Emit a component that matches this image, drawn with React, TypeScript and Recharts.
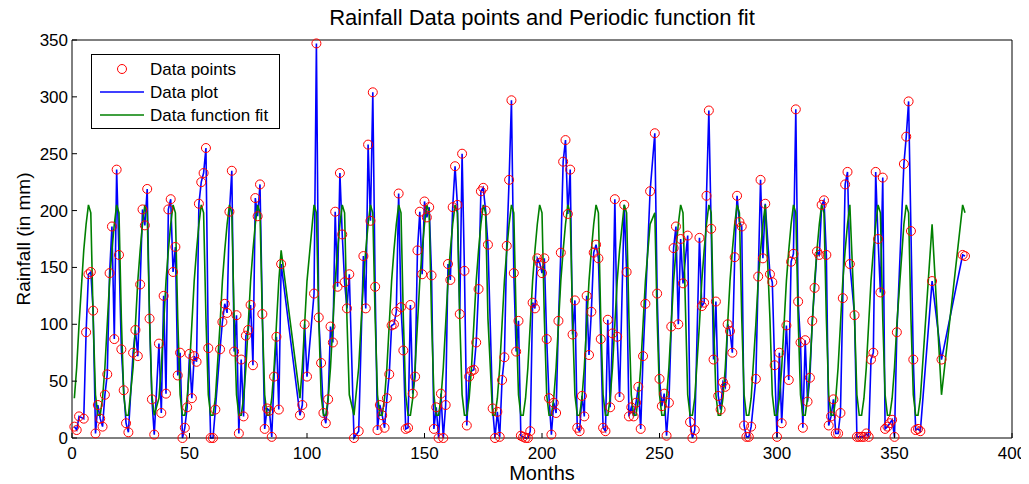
import React from 'react'
import { ComposedChart, Line, XAxis, YAxis, Label } from 'recharts'

// months that have a reading (there are gaps in the record)
const months = [
  1, 2, 3, 5, 6, 7, 8, 9, 10, 11, 12, 13, 14, 15, 16, 17, 18, 19, 20, 21, 22, 23, 24, 26, 27, 28, 29, 30,
  31, 32, 33, 34, 35, 37, 38, 39, 40, 41, 42, 43, 44, 45, 46, 47, 48, 49, 50, 51, 52, 53, 54, 55, 56, 57,
  58, 59, 60, 61, 63, 64, 65, 66, 67, 68, 69, 70, 71, 72, 73, 74, 75, 76, 77, 78, 79, 80, 81, 82, 83, 84,
  85, 86, 87, 88, 89, 97, 98, 99, 100, 103, 104, 105, 106, 107, 108, 109, 110, 111, 112, 113, 114, 115,
  116, 117, 118, 120, 122, 124, 125, 126, 127, 128, 129, 130, 131, 132, 133, 134, 135, 136, 137, 138, 139,
  140, 141, 142, 143, 144, 145, 146, 147, 148, 149, 150, 151, 152, 153, 154, 155, 156, 157, 158, 159, 160,
  161, 162, 163, 164, 165, 166, 167, 168, 169, 170, 171, 172, 173, 174, 175, 176, 177, 179, 180, 181, 182,
  183, 184, 185, 186, 187, 188, 189, 190, 191, 192, 193, 194, 195, 196, 197, 198, 199, 200, 201, 202, 203,
  204, 205, 206, 207, 208, 209, 210, 211, 212, 213, 214, 215, 216, 217, 218, 219, 220, 221, 222, 223, 224,
  225, 226, 227, 228, 229, 230, 231, 232, 233, 235, 236, 237, 238, 239, 240, 241, 242, 243, 244, 246, 248,
  249, 250, 251, 252, 253, 254, 255, 256, 257, 258, 259, 260, 262, 263, 264, 265, 267, 268, 269, 270, 271,
  272, 273, 274, 275, 276, 277, 278, 279, 280, 281, 282, 283, 284, 285, 286, 287, 288, 289, 291, 292, 293,
  294, 295, 297, 298, 299, 300, 301, 302, 304, 305, 306, 307, 308, 309, 310, 311, 312, 313, 314, 315, 316,
  317, 318, 319, 320, 321, 322, 323, 324, 325, 326, 327, 328, 329, 330, 331, 333, 334, 335, 336, 337, 338,
  339, 340, 341, 342, 343, 344, 345, 346, 347, 348, 349, 350, 351, 354, 355, 356, 357, 358, 359, 360, 361,
  366, 370, 379, 380,
]

// rainfall in mm, one per month above
const rainfall = [
  10, 7, 19, 17, 93, 144, 146, 112, 4, 29, 17, 10, 38, 56, 145, 186, 87, 236, 161, 78, 42, 13, 5, 75, 95, 72, 135, 201,
  187, 219, 105, 34, 3, 83, 22, 125, 39, 201, 210, 146, 168, 55, 75, 0, 9, 27, 74, 35, 72, 67, 206, 225, 233, 255,
  79, 0, 0, 25, 78, 102, 118, 110, 199, 235, 76, 108, 4, 69, 19, 90, 95, 117, 64, 211, 195, 223, 109, 8, 26, 24,
  1, 54, 89, 25, 153, 20, 29, 100, 54, 127, 347, 106, 66, 22, 13, 34, 98, 84, 199, 133, 233, 179,
  137, 114, 144, 0, 6, 160, 114, 258, 191, 304, 133, 7, 29, 20, 9, 35, 56, 99, 100, 111, 215,
  115, 77, 8, 9, 117, 39, 54, 165, 199, 144, 208, 194, 203, 143, 8, 27, 0, 39, 0, 29, 153,
  139, 203, 239, 205, 109, 250, 147, 11, 54, 59, 60, 84, 131, 217, 220, 200, 170, 26, 0, 23, 1,
  51, 71, 169, 227, 297, 145, 76, 103, 2, 1, 0, 0, 6, 119, 114, 158, 154, 145, 158, 87, 35,
  3, 31, 22, 103, 163, 243, 262, 197, 236, 91, 121, 9, 6, 37, 19, 125, 73, 111, 163, 170, 158,
  87, 9, 6, 104, 27, 92, 210, 89, 36, 205, 146, 19, 27, 19, 31, 45, 8, 72, 118, 217, 268,
  127, 52, 28, 39, 2, 31, 98, 167, 186, 100, 175, 136, 178, 14, 0, 7, 176, 116, 119, 213, 288,
  184, 69, 120, 37, 25, 49, 45, 100, 94, 75, 159, 213, 190, 186, 11, 1, 1, 10, 52, 142, 227,
  158, 206, 144, 137, 64, 1, 75, 13, 99, 51, 155, 162, 289, 120, 84, 9, 86, 32, 53, 103, 132,
  164, 161, 205, 209, 161, 11, 19, 34, 4, 4, 22, 123, 223, 234, 153, 108, 1, 1, 1, 1, 4,
  1, 69, 75, 234, 175, 128, 229, 8, 10, 13, 16, 1, 93, 241, 265, 296, 182, 69, 7, 8, 6,
  138, 69, 161, 160,
]

const fitProfile = [20, 35, 62, 100, 138, 165, 188, 205, 198, 105, 38, 20]

const xTicks = [0, 50, 100, 150, 200, 250, 300, 350, 400]
const yTicks = [0, 50, 100, 150, 200, 250, 300, 350]

const data = months.map((month, i) => ({
  month,
  rain: rainfall[i],
  fit: fitProfile[month % 12],
}))

const FONT = '"Liberation Sans", Arial, Helvetica, sans-serif'
const tickStyle = { fontSize: 17, fill: '#000', fontFamily: FONT }

function YTitle(props: any) {
  const { viewBox } = props
  const cx = viewBox.x + 15
  const cy = viewBox.y + viewBox.height / 2
  return (
    <text
      x={cx}
      y={cy}
      transform={`rotate(-90 ${cx} ${cy})`}
      textAnchor='middle'
      dominantBaseline='central'
      fontSize={19}
      fontFamily={FONT}
      fill='#000'
    >
      Rainfall (in mm)
    </text>
  )
}

function ChartLegend() {
  const text = { fontSize: 17, fontFamily: FONT, fill: '#000', dominantBaseline: 'central' as const }
  return (
    <svg style={{ position: 'absolute', left: 83, top: 54 }} width={189} height={75}>
      <rect x={0.5} y={0.5} width={188} height={74} fill='#fff' stroke='#000' />
      <circle cx={31} cy={15} r={4.5} fill='none' stroke='#ff0000' />
      <text x={59} y={15} {...text}>Data points</text>
      <line x1={9} x2={53} y1={38} y2={38} stroke='#0000ff' strokeWidth={1.6} />
      <text x={59} y={38} {...text}>Data plot</text>
      <line x1={9} x2={53} y1={61} y2={61} stroke='#008000' strokeWidth={1.6} />
      <text x={59} y={61} {...text}>Data function fit</text>
    </svg>
  )
}

export default function App() {
  // pulled up over the body margin so the title has room inside the svg
  return (
    <div style={{ position: 'relative', width: 1021, height: 484, marginTop: -8, fontFamily: FONT }}>
      <ComposedChart width={1021} height={484} data={data} margin={{ top: 39, right: 16, bottom: 0, left: 0 }}>
        <XAxis
          dataKey='month'
          type='number'
          domain={[0, 400]}
          ticks={xTicks}
          height={46}
          tick={tickStyle}
          tickSize={-5}
          tickMargin={14}
          stroke='#000'
          interval={0}
        >
          <Label value='Months' position='insideBottom' offset={4} fontSize={20} fontFamily={FONT} fill='#000' />
        </XAxis>
        <XAxis
          xAxisId='top'
          dataKey='month'
          orientation='top'
          type='number'
          domain={[0, 400]}
          ticks={xTicks}
          height={1}
          tick={false}
          tickSize={-5}
          stroke='#000'
          interval={0}
        >
          <Label
            value='Rainfall Data points and Periodic function fit'
            position='top'
            offset={14}
            fontSize={22}
            fontFamily={FONT}
            fill='#000'
          />
        </XAxis>
        <YAxis
          type='number'
          domain={[0, 350]}
          ticks={yTicks}
          width={64}
          tick={tickStyle}
          tickSize={-5}
          tickMargin={9}
          stroke='#000'
          interval={0}
          label={<YTitle />}
        />
        <YAxis
          yAxisId='right'
          orientation='right'
          type='number'
          domain={[0, 350]}
          ticks={yTicks}
          width={1}
          tick={false}
          tickSize={-5}
          stroke='#000'
          interval={0}
        />
        {/* invisible series so the top/right box axes get drawn */}
        <Line
          xAxisId='top'
          yAxisId='right'
          dataKey='fit'
          stroke='none'
          dot={false}
          activeDot={false}
          legendType='none'
          isAnimationActive={false}
        />
        <Line
          dataKey='rain'
          stroke='none'
          dot={{ r: 4.5, stroke: '#ff0000', strokeWidth: 1, fill: 'none' }}
          activeDot={false}
          isAnimationActive={false}
        />
        <Line
          type='linear'
          dataKey='rain'
          stroke='#0000ff'
          strokeWidth={1.6}
          dot={false}
          activeDot={false}
          isAnimationActive={false}
        />
        <Line
          type='linear'
          dataKey='fit'
          stroke='#008000'
          strokeWidth={1.6}
          dot={false}
          activeDot={false}
          isAnimationActive={false}
        />
      </ComposedChart>
      <ChartLegend />
    </div>
  )
}
